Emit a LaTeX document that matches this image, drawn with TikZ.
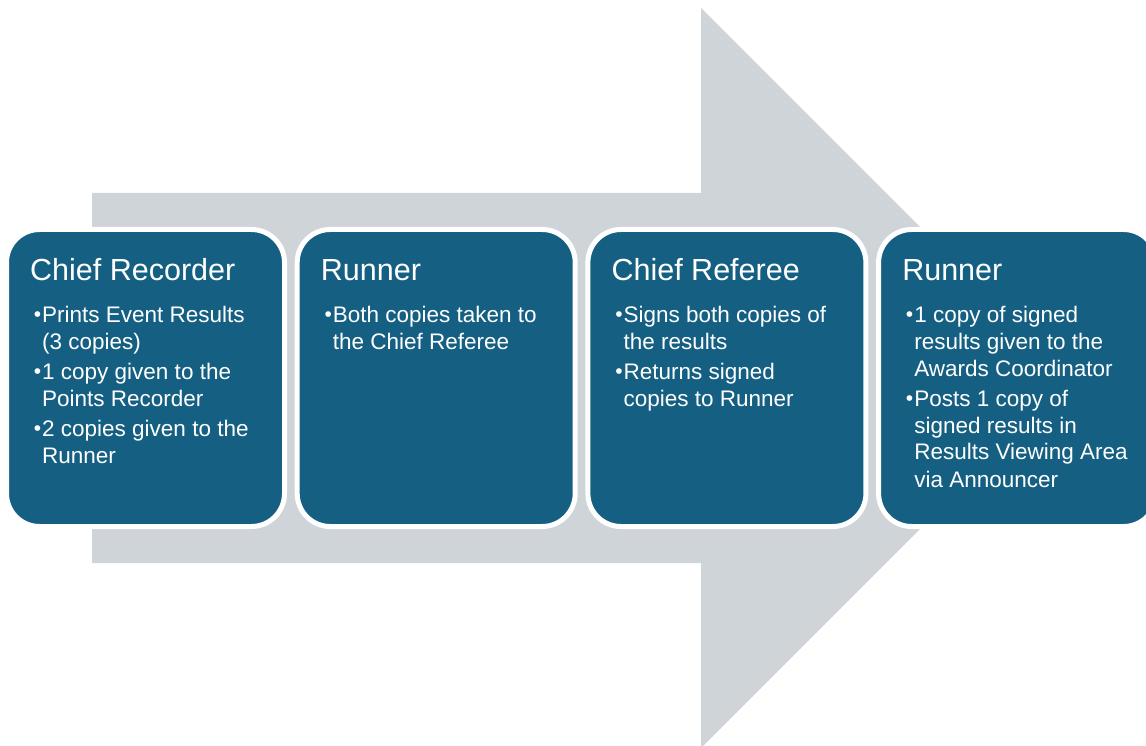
\documentclass[tikz,border=0pt]{standalone}
\usepackage{fontspec}
\setmainfont{Liberation Sans}
\usetikzlibrary{positioning}
\definecolor{arrowgray}{HTML}{CFD4D9}
\definecolor{boxteal}{HTML}{156082}
\tikzstyle{stepbox}=[rounded corners=33pt, fill=boxteal, draw=white, line width=5pt, minimum width=278pt, minimum height=297pt, inner sep=0pt, outer sep=0pt]
\tikzstyle{steptitle}=[white, inner sep=0pt, font=\fontsize{30.5pt}{36pt}\selectfont]
\tikzstyle{steptext}=[white, inner sep=0pt, font=\fontsize{22.5pt}{27pt}\selectfont]
\newcommand{\bul}{\par\noindent\hangindent=12pt\hangafter=1\makebox[12pt][r]{\raisebox{0.5pt}{\fontsize{21pt}{21pt}\selectfont\textbullet}\hspace{1pt}}}
\newcommand{\gap}{\par\vspace{3pt}}

\begin{document}
\begin{tikzpicture}[x=1pt, y=-1pt]
\useasboundingbox (0,0) rectangle (1146,746);
\clip (0,0) rectangle (1146,746);
% Arrow
    \fill[arrowgray] (92,193) -- (701,193) -- (701,8) -- (1071,378) -- (701,748) -- (701,563) -- (92,563) -- cycle;
% Boxes
    \node[stepbox, anchor=north west] (b1) at (6.5,229.5) {};
    \node[stepbox, right=12.7pt of b1] (b2) {};
    \node[stepbox, right=12.7pt of b2] (b3) {};
    \node[stepbox, right=12.7pt of b3] (b4) {};
% Titles
    \node[steptitle, below right=50.5pt and 23.5pt of b1.north west, anchor=base west] (t1) {Chief Recorder};
    \node[steptitle, below right=50.5pt and 23.5pt of b2.north west, anchor=base west] (t2) {Runner};
    \node[steptitle, below right=50.5pt and 23.5pt of b3.north west, anchor=base west] (t3) {Chief Referee};
    \node[steptitle, below right=50.5pt and 23.5pt of b4.north west, anchor=base west] (t4) {Runner};
% Bullets
    \node[steptext, below right=92.5pt and 23.5pt of b1.north west, anchor=base west] (p1) {\parbox[t]{250pt}{\bul Prints Event Results\\(3 copies)\gap\bul 1 copy given to the\\Points Recorder\gap\bul 2 copies given to the\\Runner}};
    \node[steptext, below right=92.5pt and 23.5pt of b2.north west, anchor=base west] (p2) {\parbox[t]{250pt}{\bul Both copies taken to\\the Chief Referee}};
    \node[steptext, below right=92.5pt and 23.5pt of b3.north west, anchor=base west] (p3) {\parbox[t]{250pt}{\bul Signs both copies of\\the results\gap\bul Returns signed\\copies to Runner}};
    \node[steptext, below right=92.5pt and 23.5pt of b4.north west, anchor=base west] (p4) {\parbox[t]{250pt}{\bul 1 copy of signed\\results given to the\\Awards Coordinator\gap\bul Posts 1 copy of\\signed results in\\Results Viewing Area\\via Announcer}};
\end{tikzpicture}
\end{document}
